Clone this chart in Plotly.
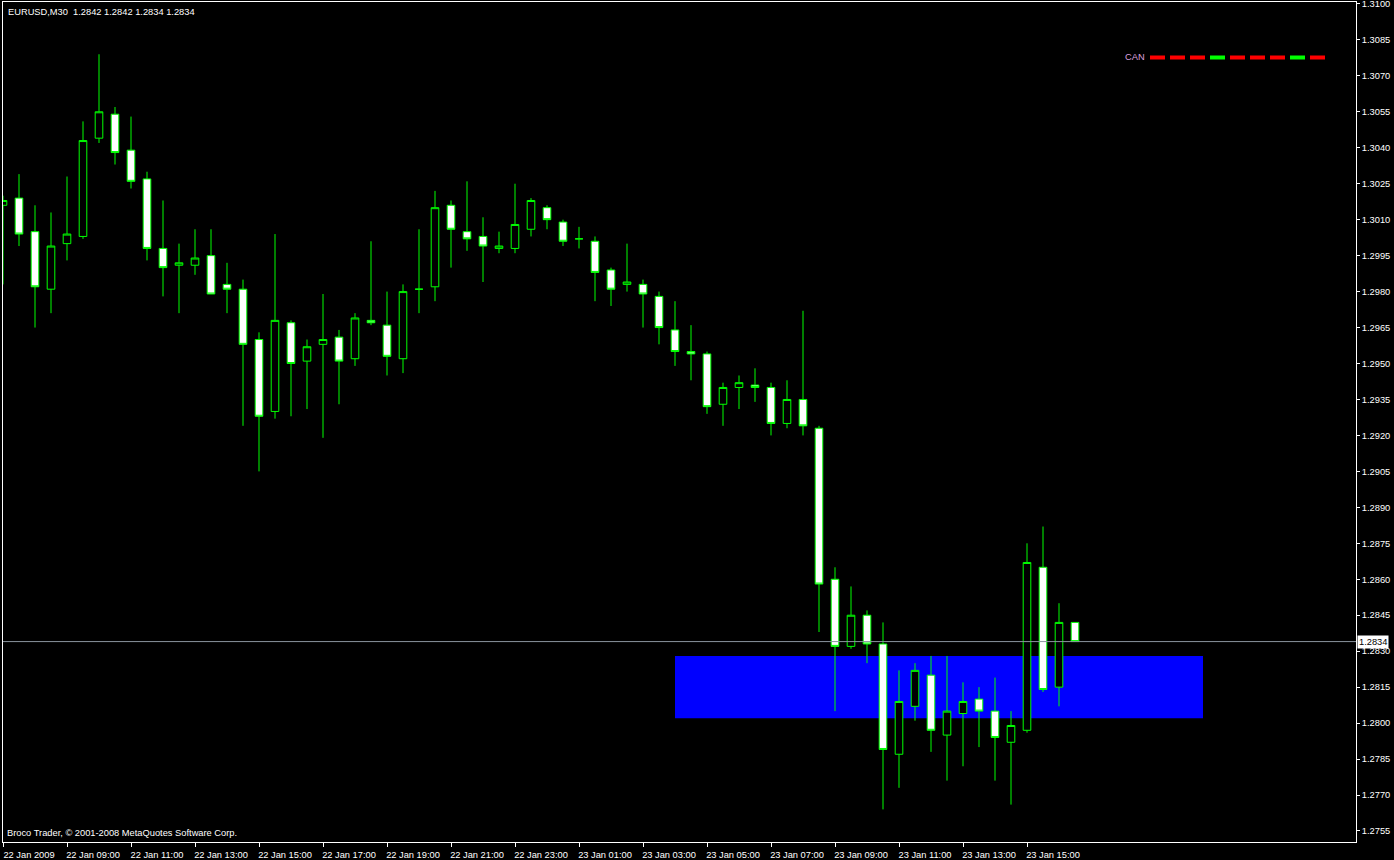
import plotly.graph_objects as go
import pandas as pd

symbol = "EURUSD,M30"
times = pd.date_range("2009-01-22 07:00", periods=68, freq="30min")

opens = [1.3016, 1.3019, 1.3005, 1.2981, 1.3000, 1.3003, 1.3044, 1.3054, 1.3039, 1.3027,
         1.2998, 1.2991, 1.2991, 1.2995, 1.2983, 1.2981, 1.2960, 1.2930, 1.2967, 1.2951,
         1.2958, 1.2961, 1.2952, 1.2968, 1.2966, 1.2952, 1.2981, 1.2982, 1.3016, 1.3005,
         1.3003, 1.2998, 1.2998, 1.3006, 1.3015, 1.3009, 1.3002, 1.3001, 1.2989, 1.2983,
         1.2983, 1.2978, 1.2964, 1.2955, 1.2954, 1.2933, 1.2940, 1.2941, 1.2940, 1.2925,
         1.2935, 1.2923, 1.2860, 1.2832, 1.2845, 1.2833, 1.2787, 1.2807, 1.2820, 1.2795,
         1.2804, 1.2810, 1.2805, 1.2792, 1.2797, 1.2865, 1.2815, 1.2842]
highs = [1.3020, 1.3029, 1.3016, 1.3013, 1.3028, 1.3051, 1.3079, 1.3057, 1.3053, 1.3030,
         1.3018, 1.3000, 1.3006, 1.3006, 1.2992, 1.2985, 1.2963, 1.3004, 1.2968, 1.2960,
         1.2979, 1.2964, 1.2971, 1.3001, 1.2980, 1.2983, 1.3006, 1.3022, 1.3018, 1.3026,
         1.3011, 1.3005, 1.3025, 1.3019, 1.3016, 1.3010, 1.3007, 1.3003, 1.2990, 1.3000,
         1.2985, 1.2980, 1.2976, 1.2966, 1.2955, 1.2942, 1.2945, 1.2948, 1.2942, 1.2943,
         1.2972, 1.2924, 1.2865, 1.2857, 1.2847, 1.2842, 1.2822, 1.2825, 1.2828, 1.2828,
         1.2817, 1.2815, 1.2819, 1.2805, 1.2875, 1.2882, 1.2850, 1.2842]
lows = [1.2983, 1.2999, 1.2965, 1.2971, 1.2993, 1.3002, 1.3042, 1.3033, 1.3023, 1.2993,
        1.2978, 1.2971, 1.2987, 1.2979, 1.2971, 1.2924, 1.2905, 1.2927, 1.2928, 1.2931,
        1.2919, 1.2933, 1.2949, 1.2966, 1.2945, 1.2946, 1.2971, 1.2976, 1.2990, 1.2997,
        1.2984, 1.2996, 1.2996, 1.3003, 1.3006, 1.2999, 1.2998, 1.2976, 1.2974, 1.2980,
        1.2965, 1.2958, 1.2949, 1.2943, 1.2929, 1.2924, 1.2931, 1.2934, 1.2920, 1.2923,
        1.2920, 1.2838, 1.2805, 1.2831, 1.2825, 1.2764, 1.2773, 1.2801, 1.2788, 1.2776,
        1.2782, 1.2790, 1.2776, 1.2766, 1.2796, 1.2813, 1.2807, 1.2834]
closes = [1.3018, 1.3004, 1.2982, 1.2999, 1.3004, 1.3043, 1.3055, 1.3038, 1.3026, 1.2998,
          1.2990, 1.2992, 1.2994, 1.2979, 1.2981, 1.2958, 1.2928, 1.2968, 1.2950, 1.2957,
          1.2960, 1.2951, 1.2969, 1.2967, 1.2953, 1.2980, 1.2981, 1.3015, 1.3006, 1.3002,
          1.2999, 1.2999, 1.3008, 1.3018, 1.3010, 1.3001, 1.3002, 1.2988, 1.2981, 1.2984,
          1.2979, 1.2965, 1.2955, 1.2954, 1.2932, 1.2940, 1.2942, 1.2940, 1.2925, 1.2935,
          1.2924, 1.2858, 1.2832, 1.2845, 1.2833, 1.2789, 1.2809, 1.2822, 1.2797, 1.2805,
          1.2809, 1.2805, 1.2794, 1.2799, 1.2867, 1.2814, 1.2842, 1.2834]

tick_labels = ["22 Jan 2009", "22 Jan 09:00", "22 Jan 11:00", "22 Jan 13:00", "22 Jan 15:00",
               "22 Jan 17:00", "22 Jan 19:00", "22 Jan 21:00", "22 Jan 23:00", "23 Jan 01:00",
               "23 Jan 03:00", "23 Jan 05:00", "23 Jan 07:00", "23 Jan 09:00", "23 Jan 11:00",
               "23 Jan 13:00", "23 Jan 15:00"]
tick_every = 4

can_signals = ["sell", "sell", "sell", "buy", "sell", "sell", "sell", "buy", "sell"]
signal_colors = {"sell": "#FF0000", "buy": "#00FF00"}

bid = 1.2834
zone_top = 1.2828
zone_bottom = 1.2802
zone_start = pd.Timestamp("2009-01-23 04:00")
zone_end = pd.Timestamp("2009-01-23 20:30")

# ---- layout geometry (pixels) ----
W, H = 1394, 860
L, R, T, B = 3, 38, 2, 18
pw, ph = W - L - R, H - T - B
bar_px = 16
bar_dt = pd.Timedelta(minutes=30)
x0 = times[0]
x1 = times[0] + bar_dt * (pw / bar_px)
y_lo, y_hi = 1.27504, 1.31008

def px_x(px):
    return (px - L) / pw

def px_y(py):
    return (H - B - py) / ph

fig = go.Figure()
fig.add_trace(go.Candlestick(
    x=times, open=opens, high=highs, low=lows, close=closes,
    increasing=dict(line=dict(color="#00FF00", width=1), fillcolor="#000000"),
    decreasing=dict(line=dict(color="#00FF00", width=1), fillcolor="#FFFFFF"),
    whiskerwidth=0, hoverinfo="skip", showlegend=False,
))

shapes = [
    dict(type="rect", xref="x", yref="y", x0=zone_start, x1=zone_end,
         y0=zone_bottom, y1=zone_top, fillcolor="#0000FF", line=dict(width=0), layer="below"),
    dict(type="line", xref="paper", yref="y", x0=0, x1=1, y0=bid, y1=bid,
         line=dict(color="#8A949E", width=1), layer="above"),
]
for k, s in enumerate(can_signals):
    left = 1150 + 20 * k
    shapes.append(dict(type="rect", xref="paper", yref="paper",
                       x0=px_x(left), x1=px_x(left + 15),
                       y0=px_y(59.5), y1=px_y(55.5),
                       fillcolor=signal_colors[s], line=dict(width=0)))

font_family = "Liberation Sans, Arial, sans-serif"
fs = 9.3

annotations = [
    dict(xref="paper", yref="paper", x=0, y=1, xanchor="left", yanchor="top",
         xshift=3, yshift=-3, showarrow=False,
         text=f"{symbol}\u00a0 {opens[-1]:.4f} {highs[-1]:.4f} {lows[-1]:.4f} {closes[-1]:.4f}",
         font=dict(family=font_family, size=fs, color="#FFFFFF")),
    dict(xref="paper", yref="paper", x=0, y=0, xanchor="left", yanchor="bottom",
         xshift=2, yshift=2, showarrow=False,
         text="Broco Trader, © 2001-2008 MetaQuotes Software Corp.",
         font=dict(family=font_family, size=fs, color="#FFFFFF")),
    dict(xref="paper", yref="paper", x=px_x(1147), y=px_y(57.5), xanchor="right",
         yanchor="middle", showarrow=False, text="CAN",
         font=dict(family=font_family, size=fs, color="#DDA0DD")),
    dict(xref="paper", yref="y", x=1, y=bid, xanchor="left", yanchor="middle",
         xshift=1, showarrow=False, text=f"{bid:.4f}", bgcolor="#FFFFFF",
         borderpad=1, font=dict(family=font_family, size=fs, color="#000000")),
]

fig.update_layout(
    width=W, height=H, autosize=False,
    margin=dict(l=L, r=R, t=T, b=B, pad=0, autoexpand=False),
    paper_bgcolor="#000000", plot_bgcolor="#000000",
    boxgap=0.32,
    shapes=shapes, annotations=annotations,
    showlegend=False,
)
fig.update_xaxes(
    type="date", range=[x0, x1], rangeslider=dict(visible=False),
    tickvals=list(times[::tick_every]), ticktext=tick_labels,
    tickangle=0, automargin=False, ticklabeloverflow="allow",
    ticks="outside", ticklen=4, tickcolor="#FFFFFF", ticklabelshift=26,
    tickfont=dict(family=font_family, size=fs, color="#FFFFFF"),
    showgrid=False, zeroline=False,
    showline=True, linecolor="#FFFFFF", linewidth=1, mirror=True,
)
fig.update_yaxes(
    side="right", range=[y_lo, y_hi], tick0=1.2755, dtick=0.0015, tickformat=".4f",
    automargin=False, ticklabeloverflow="allow",
    ticks="outside", ticklen=3, tickcolor="#FFFFFF",
    tickfont=dict(family=font_family, size=fs, color="#FFFFFF"),
    showgrid=False, zeroline=False,
    showline=True, linecolor="#FFFFFF", linewidth=1, mirror=True,
)

fig.write_html(
    "out.html",
    config={"displayModeBar": False},
    post_script="document.body.style.margin='0px';document.body.style.overflow='hidden';"
                "document.body.style.background='#000';",
)
